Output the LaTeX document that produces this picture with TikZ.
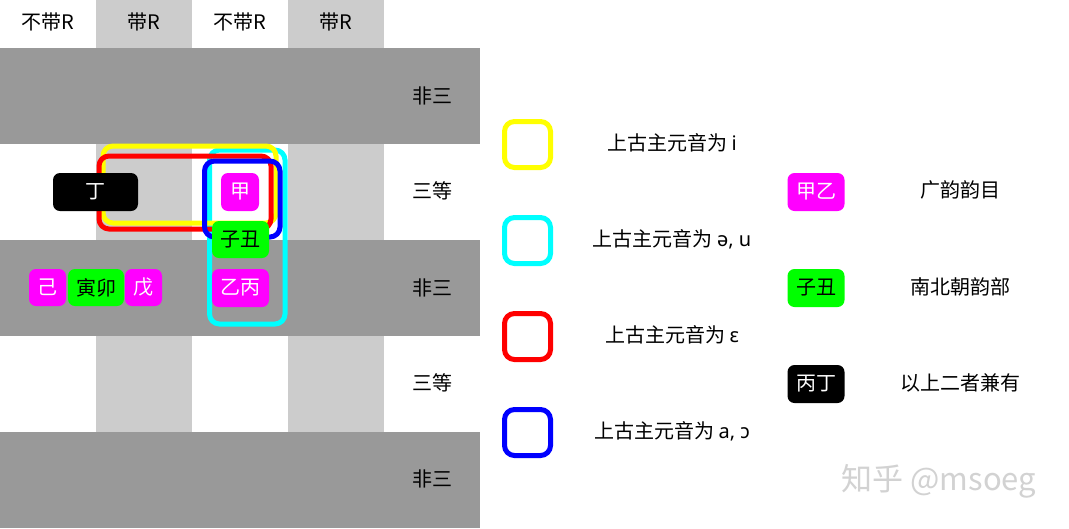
\documentclass[tikz,border=0pt]{standalone}
\usepackage{fontspec}
\setmainfont{Noto Sans CJK SC}
\newfontfamily\ipafont{Noto Sans}
\usepackage{tikz}
\usepackage{xcolor}
\usetikzlibrary{positioning}
\definecolor{darkrow}{HTML}{999999}
\definecolor{lightcol}{HTML}{CCCCCC}
\definecolor{tagmagenta}{HTML}{FF00FF}
\definecolor{taggreen}{HTML}{00FF00}
\definecolor{ringyellow}{HTML}{FFFF00}
\definecolor{ringcyan}{HTML}{00FFFF}
\definecolor{ringred}{HTML}{FF0000}
\definecolor{ringblue}{HTML}{0000FF}
\definecolor{markgray}{HTML}{D2D2D2}

\begin{document}
\begin{tikzpicture}[x=1pt,y=-1pt,font=\fontsize{20}{24}\selectfont,every node/.style={inner sep=0pt,text=black},
	tagbox/.style={rounded corners=7pt,minimum height=38pt,text=white},
	greenbox/.style={tagbox,fill=taggreen,text=black},
	pinkbox/.style={tagbox,fill=tagmagenta},
	blackbox/.style={tagbox,fill=black},
	ringframe/.style={line width=5pt,rounded corners=10pt},
	legbox/.style={draw,line width=5pt,rounded corners=10pt,minimum size=46pt}]
	\useasboundingbox (0,0) rectangle (1069,528);
	\fill[white] (0,0) rectangle (1069,528);
	\fill[lightcol] (96,0) rectangle (192,528);
	\fill[lightcol] (288,0) rectangle (384,528);
	\fill[darkrow] (0,48) rectangle (480,144);
	\fill[darkrow] (0,240) rectangle (480,336);
	\fill[darkrow] (0,432) rectangle (480,528);

	\node (hd1) at (48,22) {不带R};
	\node (hd2) at (144,22) {带R};
	\node (hd3) at (240,22) {不带R};
	\node (hd4) at (336,22) {带R};

	\node (rw1) at (432,96) {非三};
	\node (rw2) at (432,191) {三等};
	\node (rw3) at (432,288) {非三};
	\node (rw4) at (432,383) {三等};
	\node (rw5) at (432,479) {非三};

	\draw[ringframe,ringcyan] (209.5,150) rectangle (285,324);
	\draw[ringframe,ringyellow] (103,146) rectangle (276,223);
	\draw[ringframe,ringred] (99,156) rectangle (271,229);
	\draw[ringframe,ringblue] (204.5,161) rectangle (280,237);

	\node (ding) at (95.5,192) [blackbox,minimum width=85pt] {丁};
	\node (jia) at (240,192) [pinkbox,minimum width=38pt] {甲};
	\node (zichou) at (240.5,239.5) [greenbox,minimum width=57pt,minimum height=37pt] {子丑};
	\node (yibing) at (240.5,288) [pinkbox,minimum width=57pt] {乙丙};
	\node (ji) at (47.5,287.5) [pinkbox,minimum width=37pt,minimum height=37pt] {己};
	\node (yinmao) at (96,287.5) [greenbox,minimum width=56pt,minimum height=37pt] {寅卯};
	\node (wu) at (143.5,287.5) [pinkbox,minimum width=37pt,minimum height=37pt] {戊};

	\node (legi) at (527.5,144.5) [legbox,draw=ringyellow] {};
	\node (legu) at (527.5,240.5) [legbox,draw=ringcyan] {};
	\node (lege) at (527.5,336.5) [legbox,draw=ringred] {};
	\node (lega) at (527.5,432.5) [legbox,draw=ringblue] {};

	\node (txti) at (672,143) {上古主元音为 {\ipafont i}};
	\node (txtu) at (672,239) {上古主元音为 {\ipafont ə, u}};
	\node (txte) at (672,335) {上古主元音为 {\ipafont ε}};
	\node (txta) at (672,431) {上古主元音为 {\ipafont a, ɔ}};

	\node (kguang) at (816,192) [pinkbox,minimum width=57pt] {甲乙};
	\node (knan) at (816,288) [greenbox,minimum width=57pt] {子丑};
	\node (kboth) at (816,384) [blackbox,minimum width=57pt] {丙丁};

	\node (tguang) at (960,190) {广韵韵目};
	\node (tnan) at (960,287) {南北朝韵部};
	\node (tboth) at (960,383) {以上二者兼有};

	\node (mark) at (939,481) [text=markgray,font=\fontsize{31}{36}\selectfont] {知乎 @msoeg};
\end{tikzpicture}
\end{document}
